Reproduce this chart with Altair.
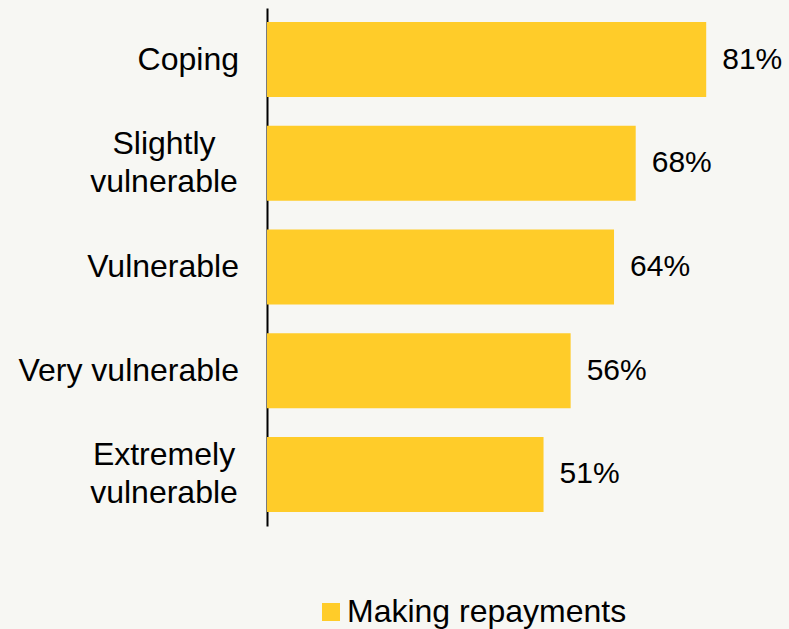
import altair as alt
import pandas as pd

categories = ["Coping", "Slightly|vulnerable", "Vulnerable", "Very vulnerable", "Extremely|vulnerable"]
values = [81, 68, 64, 56, 51]
series_name = "Making repayments"

df = pd.DataFrame({
    "category": categories,
    "value": values,
    "series": [series_name] * len(categories),
})
df["label"] = df["value"].astype(str) + "%"
df["multi"] = df["category"].str.contains(r"\|")

FONT = "Liberation Sans"
BAR = "#FFCC29"
BG = "#F7F7F3"

y_enc = alt.Y(
    "category:N",
    sort=categories,
    title=None,
    scale=alt.Scale(paddingInner=0.277, paddingOuter=0.135),
    axis=alt.Axis(
        labels=False,
        ticks=False,
        grid=False,
        domainColor="black",
        domainWidth=2,
    ),
)
x_enc = alt.X("value:Q", scale=alt.Scale(domain=[0, 90]), axis=None)

bars = alt.Chart(df).mark_bar().encode(
    x=x_enc,
    y=y_enc,
    color=alt.Color(
        "series:N",
        scale=alt.Scale(range=[BAR]),
        legend=alt.Legend(
            orient="none",
            legendX=48,
            legendY=588,
            title=None,
            symbolType="square",
            symbolSize=324,
            symbolStrokeWidth=0,
            symbolOpacity=1,
            labelFontSize=32,
            labelFont=FONT,
            labelColor="black",
            labelOffset=0,
            labelLimit=0,
            padding=0,
        ),
    ),
)

text = alt.Chart(df).mark_text(
    align="left", baseline="middle", dx=16, fontSize=30, font=FONT, color="black"
).encode(
    x=x_enc,
    y=alt.Y("category:N", sort=categories),
    text="label:N",
)

single_labels = alt.Chart(df).transform_filter("!datum.multi").mark_text(
    align="right", baseline="middle", fontSize=32, font=FONT, color="black"
).encode(
    x=alt.value(-28),
    y=alt.Y("category:N", sort=categories),
    text="category:N",
)

multi_labels = alt.Chart(df).transform_filter("datum.multi").mark_text(
    align="center", baseline="middle", fontSize=32, font=FONT, color="black",
    lineBreak="|", lineHeight=38, dy=-19,
).encode(
    x=alt.value(-103),
    y=alt.Y("category:N", sort=categories),
    text="category:N",
)

chart = (
    alt.layer(bars, text, single_labels, multi_labels)
    .properties(
        width=488,
        height=518,
        autosize=alt.AutoSizeParams(type="none"),
        padding={"left": 267, "top": 8, "right": 34, "bottom": 103},
        background=BG,
    )
    .configure_view(stroke=None)
)

chart.save("out.html", embed_options={"renderer": "svg", "actions": False})
